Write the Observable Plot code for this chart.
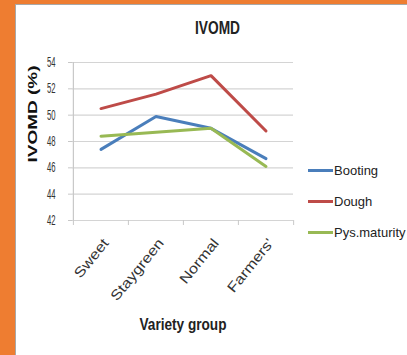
<!DOCTYPE html>
<html><head><meta charset="utf-8">
<script src="https://cdn.jsdelivr.net/npm/d3@7"></script>
<script src="https://cdn.jsdelivr.net/npm/@observablehq/plot@0.6"></script>
<style>
body{margin:0;background:#fff;}
#wrap{position:relative;width:407px;height:355px;background:#EE7D31;overflow:hidden;}
#inner{position:absolute;left:15px;top:4px;right:0;bottom:0;background:#fff;border-left:1px solid #a8a8a8;border-top:1px solid #a8a8a8;}
#chart{position:absolute;left:0;top:0;}
#legend{position:absolute;left:308px;top:160px;font:13px "Liberation Sans",Arial,sans-serif;color:#222;}
.item{position:absolute;left:0;white-space:nowrap;display:flex;align-items:center;height:20px;}
.sw{width:25px;height:3px;margin-right:1px;}
</style></head>
<body><div id="wrap"><div id="inner"></div><div id="chart"></div><div id="legend"></div></div>
<script>
const categories = ["Sweet", "Staygreen", "Normal", "Farmers'"];
const booting = [47.4, 49.9, 49.0, 46.7];
const dough = [50.5, 51.6, 53.0, 48.8];
const pysMaturity = [48.4, 48.7, 49.0, 46.1];
const seriesNames = ["Booting", "Dough", "Pys.maturity"];
const seriesColors = ["#4A7EBB", "#BE4B48", "#98B954"];
const yTicks = [42, 44, 46, 48, 50, 52, 54];
const titleText = "IVOMD";
const yLabel = "IVOMD (%)";
const xLabel = "Variety group";

const seriesValues = [booting, dough, pysMaturity];
const rows = [];
seriesNames.forEach((s, i) => categories.forEach((c, j) => rows.push({series: s, category: c, value: seriesValues[i][j]})));

const W = 407, H = 355, mL = 72, mR = 114, mT = 62, mB = 135;
const bw = (W - mL - mR) / categories.length;
const font = '"Liberation Sans",Arial,sans-serif';

const plot = Plot.plot({
  width: W, height: H,
  marginLeft: mL, marginRight: mR, marginTop: mT, marginBottom: mB,
  style: {background: "transparent", fontFamily: font, fontSize: "13px", color: "#222"},
  x: {type: "band", domain: categories, padding: 0},
  y: {domain: [42, 54]},
  color: {domain: seriesNames, range: seriesColors},
  marks: [
    Plot.gridY(yTicks, {stroke: "#d4d4d4", strokeOpacity: 1, strokeWidth: 1.2}),
    Plot.ruleX([categories[0]], {dx: -bw / 2, y1: 42, y2: 54, stroke: "#c8c8c8", strokeWidth: 1.2}),
    Plot.axisY(yTicks, {tickSize: 4, tickPadding: 13, stroke: "#c8c8c8", label: null, fontSize: 14, fill: "#333"}),
    Plot.axisX({tickSize: 5, dx: -bw / 2, text: null, stroke: "#c8c8c8", label: null}),
    Plot.axisX([categories[categories.length - 1]], {tickSize: 5, dx: bw / 2, text: null, stroke: "#c8c8c8", label: null}),
    Plot.axisX({tickSize: 0, tickRotate: -51, tickPadding: 20, dx: 5, label: null, fontSize: 14, fill: "#333"}),
    Plot.line(rows, {x: "category", y: "value", z: "series", stroke: "series", strokeWidth: 3, strokeLinejoin: "round"}),
    Plot.text([titleText], {frameAnchor: "top", lineAnchor: "middle", dx: 34.5, dy: -34, fontWeight: "bold", fontSize: 18, fill: "#222"}),
    Plot.text([yLabel], {frameAnchor: "left", textAnchor: "middle", rotate: -90, dx: -40, dy: -27.5, fontWeight: "bold", fontSize: 13.5, fill: "#111"}),
    Plot.text([xLabel], {frameAnchor: "bottom", lineAnchor: "middle", dy: 104, fontWeight: "bold", fontSize: 16, fill: "#222"})
  ]
});
document.getElementById("chart").appendChild(plot);

function squeeze(sel, fn) {
  plot.querySelectorAll(sel).forEach(t => {
    const L = t.getComputedTextLength();
    t.setAttribute("textLength", fn(L, t.textContent));
    t.setAttribute("lengthAdjust", "spacingAndGlyphs");
  });
}
squeeze('g[aria-label="y-axis tick label"] text', L => L * 0.55);
squeeze('g[aria-label="x-axis tick label"] text', L => L * 1.18);
const texts = plot.querySelectorAll('g[aria-label="text"] text');
const targets = {[titleText]: 45, [yLabel]: 97, [xLabel]: 87};
texts.forEach(t => {
  if (targets[t.textContent]) {
    t.setAttribute("textLength", targets[t.textContent]);
    t.setAttribute("lengthAdjust", "spacingAndGlyphs");
  }
});

const legend = document.getElementById("legend");
seriesNames.forEach((s, i) => {
  const it = document.createElement("div");
  it.className = "item";
  it.style.top = (i * 31) + "px";
  it.innerHTML = `<span class="sw" style="background:${seriesColors[i]}"></span><span>${s}</span>`;
  legend.appendChild(it);
});
</script></body></html>
